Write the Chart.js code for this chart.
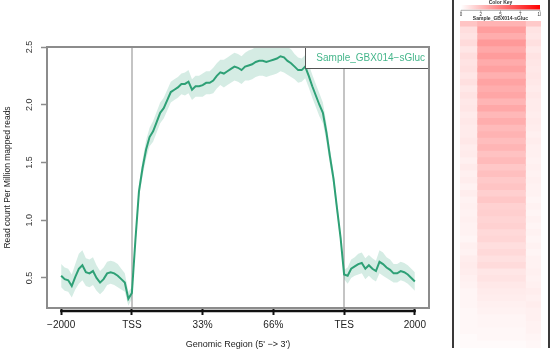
<!DOCTYPE html>
<html>
<head>
<meta charset="utf-8">
<script src="https://cdn.jsdelivr.net/npm/chart.js@4.4.1/dist/chart.umd.min.js"></script>
<style>
  html, body { margin: 0; padding: 0; background: #fff; }
  #wrap { position: relative; width: 550px; height: 362px; overflow: hidden; }
  #profile { position: absolute; left: 0; top: 0; }
  #heatBox { position: absolute; left: 452px; top: 0; width: 94px; height: 348px;
             border-left: 2px solid #3a3a3a; border-right: 2px solid #3a3a3a; }
  #heatmap { position: absolute; left: 6px; top: 0; }
</style>
</head>
<body>
<div id="wrap">
  <canvas id="profile" width="440" height="362"></canvas>
  <div id="heatBox"><canvas id="heatmap" width="81" height="348"></canvas></div>
</div>
<script>
// x axis tick labels and the bins they sit on
const tickLabels = ["\u22122000", "TSS", "33%", "66%", "TES", "2000"];
const tickBins = [0, 20, 40, 60, 80, 100];
const yTicks = [0.5, 1.0, 1.5, 2.0, 2.5];
const sampleName = "Sample_GBX014\u2212sGluc";

// average coverage, 5' flank / gene body / 3' flank
const meanLeft = [0.52, 0.49, 0.48, 0.43, 0.51, 0.58, 0.61, 0.55, 0.54, 0.56, 0.50,
  0.46, 0.49, 0.54, 0.55, 0.54, 0.52, 0.49, 0.46, 0.32, 0.37];
const meanBody = [0.83, 1.25, 1.45, 1.61, 1.72, 1.77, 1.85, 1.93, 1.97, 2.04,
  2.11, 2.13, 2.15, 2.18, 2.18, 2.20, 2.13, 2.16, 2.16, 2.17,
  2.19, 2.19, 2.21, 2.25, 2.28, 2.27, 2.29, 2.31, 2.33, 2.32,
  2.30, 2.33, 2.34, 2.35, 2.37, 2.38, 2.38, 2.37, 2.38, 2.39,
  2.40, 2.42, 2.41, 2.38, 2.36, 2.33, 2.30, 2.30, 2.33, 2.25,
  2.16, 2.08, 2.00, 1.93, 1.76, 1.55, 1.36, 1.10, 0.85, 0.53];
const meanRight = [0.52, 0.58, 0.60, 0.62, 0.63, 0.58, 0.61, 0.58, 0.56, 0.64,
  0.62, 0.59, 0.57, 0.54, 0.54, 0.56, 0.55, 0.53, 0.50, 0.47];

// standard error (ribbon half width)
const seLeft = [0.10, 0.10, 0.10, 0.10, 0.11, 0.13, 0.13, 0.12, 0.12, 0.12, 0.11,
  0.10, 0.10, 0.10, 0.10, 0.10, 0.10, 0.09, 0.08, 0.06, 0.05];
const seBody = [0.05, 0.06, 0.07, 0.08, 0.08, 0.09, 0.09, 0.09, 0.09, 0.09,
  0.09, 0.09, 0.09, 0.09, 0.10, 0.10, 0.09, 0.09, 0.09, 0.10,
  0.10, 0.10, 0.11, 0.11, 0.11, 0.12, 0.12, 0.12, 0.12, 0.12,
  0.12, 0.12, 0.13, 0.13, 0.13, 0.13, 0.13, 0.13, 0.13, 0.13,
  0.13, 0.13, 0.13, 0.12, 0.12, 0.11, 0.11, 0.10, 0.10, 0.10,
  0.10, 0.10, 0.10, 0.09, 0.08, 0.07, 0.06, 0.05, 0.05, 0.04];
const seRight = [0.07, 0.08, 0.08, 0.09, 0.09, 0.09, 0.09, 0.09, 0.09, 0.10,
  0.10, 0.09, 0.09, 0.08, 0.08, 0.08, 0.08, 0.08, 0.08, 0.08];

// heatmap rows (top to bottom), colour key 0..10
const heatLeft = [2.3, 1.3, 1.1, 1.4, 1.0, 1.3, 1.1, 1.2, 1.0, 1.2,
  0.9, 1.1, 0.9, 1.0, 0.8, 0.9, 0.8, 0.8, 0.9, 0.7,
  0.8, 0.6, 0.8, 0.6, 0.7, 0.5, 0.7, 0.5, 0.6, 0.5,
  0.6, 0.5, 0.5, 0.4, 0.6, 0.5, 0.7, 0.8, 0.7, 0.6,
  0.5, 0.4, 0.4, 0.4, 0.3, 0.3, 0.3, 0.3, 0.2, 0.2];
const heatBody = [3.0, 3.8, 3.2, 4.0, 3.4, 3.9, 3.3, 3.7, 3.1, 3.6,
  3.2, 3.5, 2.9, 3.4, 2.8, 3.2, 2.7, 3.0, 2.6, 2.9,
  2.4, 2.7, 2.2, 2.5, 2.1, 2.3, 1.9, 2.2, 1.8, 1.9,
  1.7, 1.8, 1.5, 1.6, 1.3, 1.5, 1.2, 1.4, 1.0, 1.1,
  0.9, 0.8, 0.7, 0.6, 0.5, 0.4, 0.4, 0.3, 0.3, 0.2];
const heatRight = [2.1, 1.1, 1.0, 1.2, 0.9, 1.1, 1.0, 0.9, 1.0, 0.9,
  0.8, 0.9, 0.8, 0.8, 0.7, 0.8, 0.7, 0.6, 0.7, 0.6,
  0.6, 0.5, 0.6, 0.5, 0.6, 0.5, 0.5, 0.4, 0.5, 0.4,
  0.5, 0.4, 0.5, 0.4, 0.5, 0.4, 0.5, 0.5, 0.6, 0.5,
  0.6, 0.7, 0.6, 0.7, 0.6, 0.6, 0.5, 0.5, 0.4, 0.3];
const regionSpans = [1, 3, 1];
const keyTicks = ["0", "2", "5", "7", "10"];

const FONT = "'Liberation Sans', Arial, sans-serif";
const lineColor = "#2fa176";

const meanProfile = [...meanLeft, ...meanBody, ...meanRight];
const seProfile = [...seLeft, ...seBody, ...seRight];

// profile chart extras: TSS/TES lines, box, legend, axis line, labels
const profileDecor = {
  id: "profileDecor",
  beforeDatasetsDraw(chart) {
    const { ctx, chartArea: a, scales: { x } } = chart;
    ctx.save();
    ctx.strokeStyle = "#c4c4c4";
    ctx.lineWidth = 2;
    [tickBins[1], tickBins[4]].forEach(b => {
      const px = Math.round(x.getPixelForValue(b));
      ctx.beginPath();
      ctx.moveTo(px, a.top);
      ctx.lineTo(px, a.bottom);
      ctx.stroke();
    });
    ctx.restore();
  },
  afterDatasetsDraw(chart) {
    const { ctx, chartArea: a, scales: { x, y } } = chart;
    ctx.save();
    // legend
    const lx = 305, lh = 21;
    ctx.fillStyle = "#fff";
    ctx.fillRect(lx, a.top, a.right - lx, lh);
    ctx.strokeStyle = "#555";
    ctx.lineWidth = 1;
    ctx.strokeRect(lx + 0.5, a.top + 0.5, a.right - lx, lh);
    ctx.fillStyle = "#45b68b";
    ctx.font = "10px " + FONT;
    ctx.textAlign = "right";
    ctx.textBaseline = "middle";
    ctx.fillText(sampleName, a.right - 4, a.top + lh / 2 + 1);

    // plot box
    ctx.strokeStyle = "#8c8c8c";
    ctx.lineWidth = 2;
    ctx.strokeRect(a.left, a.top, a.right - a.left, a.bottom - a.top);

    // x axis line
    ctx.strokeStyle = "#111";
    ctx.lineWidth = 2.5;
    ctx.beginPath();
    ctx.moveTo(x.getPixelForValue(tickBins[0]) - 1, a.bottom + 3);
    ctx.lineTo(x.getPixelForValue(tickBins[tickBins.length - 1]) + 1, a.bottom + 3);
    ctx.stroke();

    // y tick labels, rotated like R
    ctx.fillStyle = "#333";
    ctx.font = "9px " + FONT;
    ctx.textAlign = "center";
    ctx.textBaseline = "middle";
    yTicks.forEach(v => {
      ctx.save();
      ctx.translate(30, y.getPixelForValue(v));
      ctx.rotate(-Math.PI / 2);
      ctx.fillText(v.toFixed(1), 0, 0);
      ctx.restore();
    });

    // axis titles
    ctx.fillStyle = "#222";
    ctx.font = "9px " + FONT;
    ctx.fillText("Genomic Region (5' \u2212> 3')", (a.left + a.right) / 2, 345);
    ctx.save();
    ctx.translate(8, (a.top + a.bottom) / 2);
    ctx.rotate(-Math.PI / 2);
    ctx.font = "8.5px " + FONT;
    ctx.fillText("Read count Per Million mapped reads", 0, 0);
    ctx.restore();
    ctx.restore();
  }
};

new Chart(document.getElementById("profile"), {
  type: "line",
  data: {
    datasets: [
      {
        data: meanProfile.map((v, i) => ({ x: i, y: v + seProfile[i] })),
        borderWidth: 0,
        pointRadius: 0,
        backgroundColor: "rgba(47,161,118,0.2)",
        fill: "+1"
      },
      {
        data: meanProfile.map((v, i) => ({ x: i, y: v - seProfile[i] })),
        borderWidth: 0,
        pointRadius: 0,
        fill: false
      },
      {
        data: meanProfile.map((v, i) => ({ x: i, y: v })),
        borderColor: lineColor,
        borderWidth: 2,
        pointRadius: 0,
        fill: false
      }
    ]
  },
  options: {
    responsive: false,
    animation: false,
    layout: { padding: { left: 0, top: 47, right: 11, bottom: 0 } },
    plugins: { legend: { display: false }, tooltip: { enabled: false } },
    scales: {
      x: {
        type: "linear",
        min: -4,
        max: 104,
        afterBuildTicks: s => { s.ticks = tickBins.map(v => ({ value: v })); },
        afterFit: s => { s.height = 54; },
        ticks: {
          autoSkip: false,
          maxRotation: 0,
          padding: 4,
          color: "#222",
          font: { family: FONT, size: 10 },
          callback: (v) => tickLabels[tickBins.indexOf(v)]
        },
        grid: { drawOnChartArea: false, tickLength: 7, tickWidth: 2, tickColor: "#111" },
        border: { display: false }
      },
      y: {
        min: 0.24,
        max: 2.5,
        afterBuildTicks: s => { s.ticks = yTicks.map(v => ({ value: v })); },
        afterFit: s => { s.width = 47; },
        ticks: { display: false },
        grid: { drawOnChartArea: false, tickLength: 6, tickWidth: 1.5, tickColor: "#8c8c8c" },
        border: { display: false }
      }
    }
  },
  plugins: [profileDecor]
});

// heatmap: white -> red
function heatColor(v) {
  const t = Math.max(0, Math.min(1, v / 10));
  const c = Math.round(255 * (1 - t));
  return "rgb(255," + c + "," + c + ")";
}

const colorKey = {
  id: "colorKey",
  afterDraw(chart) {
    const { ctx } = chart;
    const x0 = 1, x1 = 80;
    ctx.save();
    const g = ctx.createLinearGradient(x0, 0, x1, 0);
    g.addColorStop(0, "#ffffff");
    g.addColorStop(1, "#ff0000");
    ctx.fillStyle = g;
    ctx.fillRect(x0, 5, x1 - x0, 4.5);
    ctx.strokeStyle = "#777";
    ctx.lineWidth = 0.6;
    ctx.beginPath();
    ctx.moveTo(x0, 10.3);
    ctx.lineTo(x1, 10.3);
    keyTicks.forEach((_, i) => {
      const px = x0 + (x1 - x0) * i / (keyTicks.length - 1);
      ctx.moveTo(px, 10.3);
      ctx.lineTo(px, 12);
    });
    ctx.stroke();
    ctx.fillStyle = "#333";
    ctx.textAlign = "center";
    ctx.textBaseline = "middle";
    ctx.font = "4.5px " + FONT;
    keyTicks.forEach((t, i) => {
      ctx.fillText(t, x0 + (x1 - x0) * i / (keyTicks.length - 1), 14.3);
    });
    ctx.font = "bold 5px " + FONT;
    ctx.fillText("Color Key", (x0 + x1) / 2, 2.6);
    ctx.fillText("Sample_GBX014-sGluc", (x0 + x1) / 2, 18.6);
    ctx.restore();
  }
};

new Chart(document.getElementById("heatmap"), {
  type: "bar",
  data: {
    labels: heatBody.map((_, i) => i + 1),
    datasets: [heatLeft, heatBody, heatRight].map((vals, c) => ({
      data: vals.map(() => regionSpans[c]),
      backgroundColor: vals.map(heatColor),
      borderWidth: 0,
      inflateAmount: 1,
      barPercentage: 1,
      categoryPercentage: 1
    }))
  },
  options: {
    indexAxis: "y",
    responsive: false,
    animation: false,
    layout: { padding: { left: 0, top: 21, right: 0, bottom: 0 } },
    plugins: { legend: { display: false }, tooltip: { enabled: false } },
    scales: {
      x: { stacked: true, display: false, min: 0, max: 5 },
      y: { stacked: true, display: false }
    }
  },
  plugins: [colorKey]
});
</script>
</body>
</html>
